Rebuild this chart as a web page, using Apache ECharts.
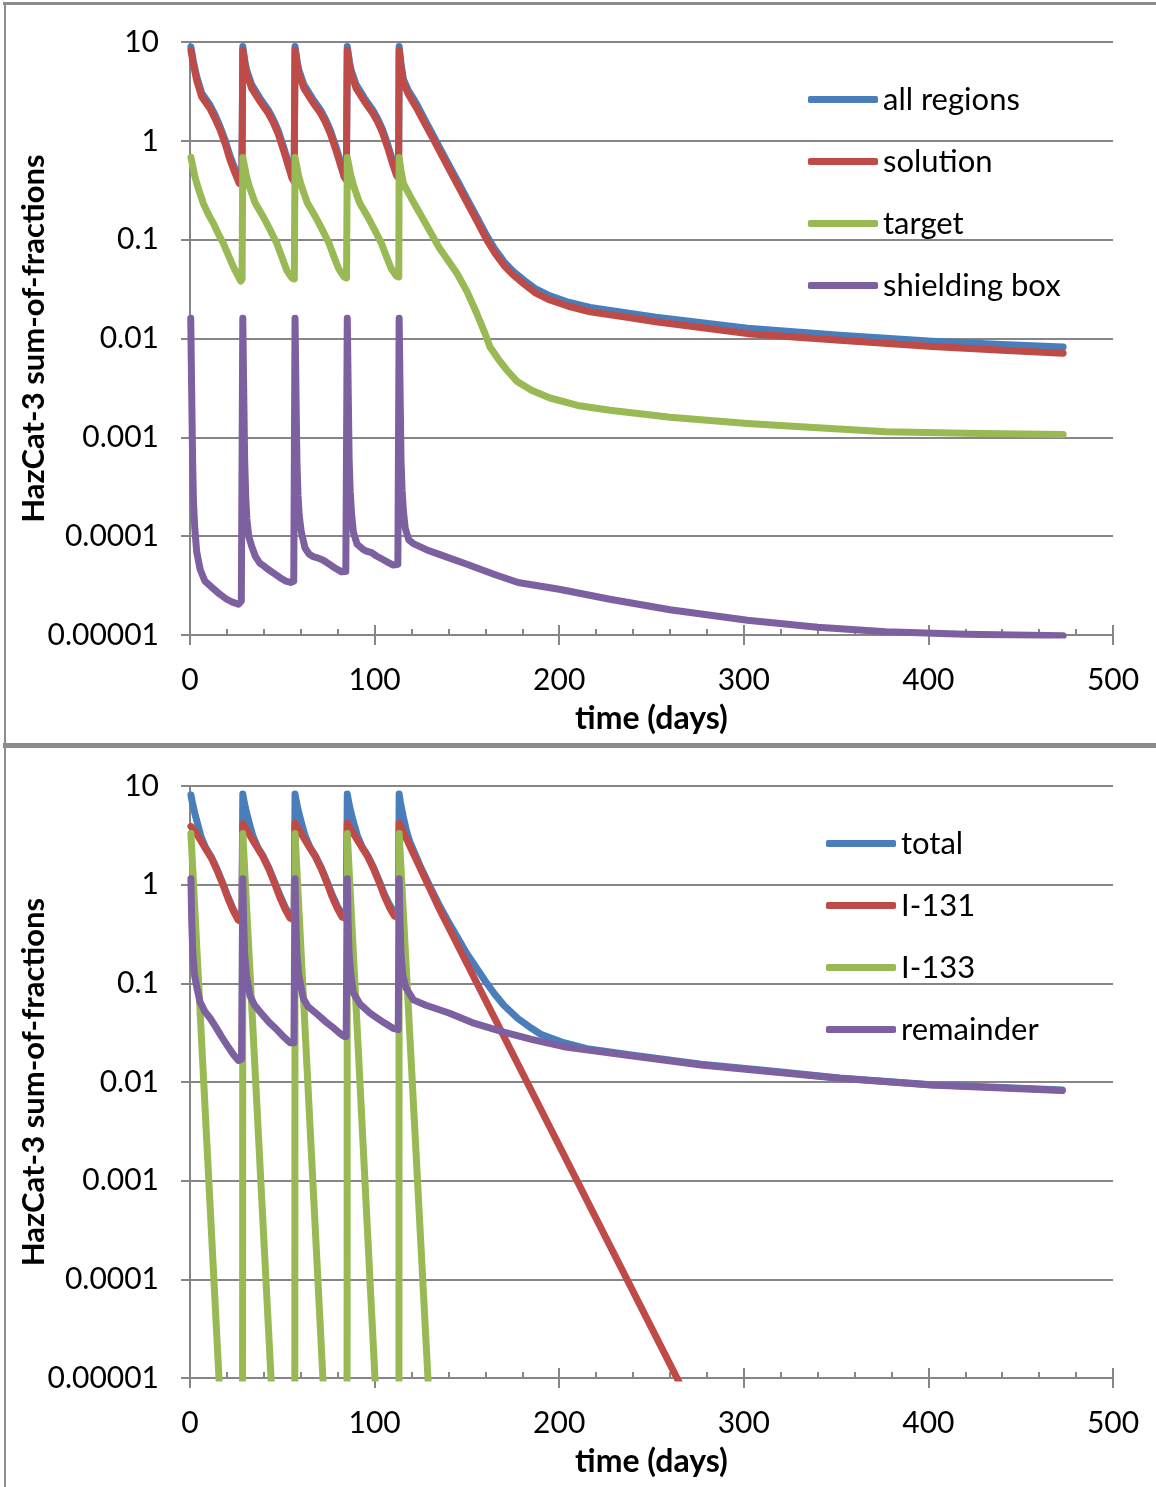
<!DOCTYPE html>
<html>
<head>
<meta charset="utf-8">
<title>HazCat-3 sum-of-fractions</title>
<script src="https://cdn.jsdelivr.net/npm/echarts/dist/echarts.min.js"></script>
<style>
html, body { margin: 0; padding: 0; background: #fff; }
#chart { width: 1156px; height: 1487px; }
</style>
</head>
<body>
<div id="chart"></div>
<script>
const chartDom = document.getElementById('chart');
const myChart = echarts.init(chartDom);

// axis tick labels
const yTickLabels = ['0.00001', '0.0001', '0.001', '0.01', '0.1', '1', '10'];
const topNames = ['all regions', 'solution', 'target', 'shielding box'];
const bottomNames = ['total', 'I-131', 'I-133', 'remainder'];

// top panel, [time (days), sum-of-fractions]
const allRegions = [
    [0.5, 8.9], [1.8, 6.4], [3.6, 4.5], [6.3, 3.05], [10.8, 2.3], [13.5, 1.84], [16.3, 1.39], [19, 1.02], [21.7, 0.7], [24.4, 0.52], [26.7, 0.41], [28.1, 0.4],
    [28.6, 9.0], [29.8, 6.3], [30.7, 5.2], [33.4, 3.7], [37.9, 2.7], [42.4, 2.05], [45, 1.67], [47.6, 1.3], [50.5, 0.89], [53.2, 0.61], [55.2, 0.46], [56.4, 0.425],
    [56.9, 9.0], [58.1, 6.3], [59, 5.2], [61.7, 3.7], [66.2, 2.7], [70.7, 2.05], [73.3, 1.67], [75.9, 1.3], [78.8, 0.9], [81.5, 0.62], [83.5, 0.47], [84.7, 0.44],
    [85.2, 9.0], [86.4, 6.3], [87.3, 5.2], [90, 3.7], [94.5, 2.7], [99, 2.05], [101.6, 1.68], [104.2, 1.32], [107.1, 0.92], [109.8, 0.63], [111.8, 0.49], [113, 0.46],
    [113.3, 9.0], [114.3, 6.1], [115.6, 4.2], [118.1, 3.28], [122.6, 2.4], [127, 1.66], [131.8, 1.13], [135, 0.87], [140, 0.58], [145, 0.39], [150, 0.26],
    [155, 0.175], [160.7, 0.11], [165, 0.081], [168, 0.068], [170, 0.06], [175, 0.048], [180.6, 0.0393], [187, 0.032], [195, 0.027], [205, 0.0233],
    [216.7, 0.0206], [235, 0.0183], [252.4, 0.0164], [302, 0.0127], [352, 0.0108], [402, 0.0094], [440, 0.0087], [473, 0.0082]
];
const solution = [
    [0.5, 8.2], [1.8, 6.0], [3.6, 4.1], [6.3, 2.8], [10.8, 2.13], [13.5, 1.69], [16.3, 1.29], [19, 0.94], [21.7, 0.64], [24.4, 0.47], [26.7, 0.37], [28.1, 0.36],
    [28.6, 8.3], [29.8, 5.9], [30.7, 4.8], [33.4, 3.4], [37.9, 2.5], [42.4, 1.9], [45, 1.55], [47.6, 1.2], [50.5, 0.82], [53.2, 0.56], [55.2, 0.42], [56.4, 0.385],
    [56.9, 8.3], [58.1, 5.9], [59, 4.8], [61.7, 3.4], [66.2, 2.5], [70.7, 1.9], [73.3, 1.55], [75.9, 1.2], [78.8, 0.83], [81.5, 0.57], [83.5, 0.43], [84.7, 0.4],
    [85.2, 8.3], [86.4, 5.9], [87.3, 4.8], [90, 3.4], [94.5, 2.5], [99, 1.9], [101.6, 1.56], [104.2, 1.22], [107.1, 0.85], [109.8, 0.58], [111.8, 0.45], [113, 0.42],
    [113.3, 8.3], [114.3, 5.6], [115.6, 3.85], [118.1, 3.0], [122.6, 2.17], [127, 1.52], [131.8, 1.04], [135, 0.8], [140, 0.534], [145, 0.357], [150, 0.239],
    [155, 0.16], [160.7, 0.1], [165, 0.074], [168, 0.062], [170, 0.055], [175, 0.044], [180.6, 0.036], [187, 0.029], [195, 0.0245], [205, 0.0212],
    [216.7, 0.0186], [235, 0.0166], [252.4, 0.0148], [302, 0.0112], [352, 0.0096], [402, 0.0083], [440, 0.0076], [473, 0.0071]
];
const target = [
    [0.5, 0.68], [2.7, 0.43], [4.5, 0.33], [7.2, 0.233], [10, 0.18], [12.6, 0.147], [15, 0.118], [18, 0.092], [21, 0.068], [23.5, 0.053], [26, 0.043], [27.5, 0.038], [28.2, 0.04],
    [28.6, 0.68], [30.7, 0.43], [32.5, 0.33], [35.3, 0.235], [39.7, 0.17], [43, 0.13], [47, 0.092], [50, 0.065], [52.4, 0.049], [55.1, 0.041], [56.5, 0.04],
    [56.9, 0.68], [59, 0.43], [60.8, 0.33], [63.6, 0.235], [68, 0.17], [71.3, 0.13], [75.3, 0.092], [78.3, 0.065], [80.7, 0.05], [83.4, 0.042], [84.8, 0.041],
    [85.2, 0.68], [87.3, 0.43], [89.1, 0.33], [91.9, 0.235], [96.3, 0.17], [99.6, 0.13], [103.6, 0.093], [106.6, 0.066], [109, 0.051], [111.7, 0.043], [113.1, 0.042],
    [113.3, 0.68], [114.3, 0.5], [115.6, 0.37], [120, 0.26], [126.4, 0.16], [135, 0.083], [144.5, 0.046], [150, 0.03], [155.3, 0.018], [160, 0.011],
    [162.5, 0.0082], [167, 0.0062], [171.6, 0.0048], [177, 0.0037], [185, 0.003], [195, 0.0025], [210, 0.0021], [227.5, 0.00188], [260, 0.0016],
    [302, 0.00138], [340, 0.00125], [377, 0.00114], [420, 0.0011], [473, 0.00107]
];
const shieldingBox = [
    [0.4, 0.016], [0.9, 0.003], [1.4, 6e-4], [1.9, 2.2e-4], [2.6, 1.2e-4], [3.6, 7e-5], [5.5, 4.6e-5], [8.1, 3.5e-5], [10.5, 3.2e-5], [12.6, 2.95e-5], [16, 2.6e-5], [19.9, 2.3e-5], [23, 2.15e-5], [26.2, 2.05e-5], [27.8, 2.2e-5],
    [28.6, 0.016], [29.1, 0.003], [29.6, 6e-4], [30.2, 2.5e-4], [30.8, 1.5e-4], [31.8, 1.0e-4], [33.4, 7.9e-5], [35.5, 6.2e-5], [37.9, 5.3e-5], [40, 5.0e-5], [42.4, 4.6e-5], [45.5, 4.2e-5], [48.8, 3.8e-5], [52, 3.5e-5], [54.5, 3.4e-5], [56.2, 3.5e-5],
    [56.9, 0.016], [57.4, 0.003], [57.9, 6e-4], [58.5, 2.6e-4], [59.2, 1.6e-4], [60.3, 1.1e-4], [62.3, 7.6e-5], [64.5, 6.6e-5], [66.8, 6.2e-5], [69.5, 6.0e-5], [72.2, 5.7e-5], [75.5, 5.2e-5], [79, 4.7e-5], [82.1, 4.35e-5], [84.4, 4.4e-5],
    [85.2, 0.016], [85.7, 0.003], [86.2, 6e-4], [86.8, 2.8e-4], [87.5, 1.7e-4], [88.5, 1.1e-4], [90.5, 8.3e-5], [93.9, 7.3e-5], [96, 7.0e-5], [98.4, 6.8e-5], [101, 6.3e-5], [104.5, 5.8e-5], [107.5, 5.4e-5], [110.1, 5.1e-5], [112.6, 5.2e-5],
    [113.3, 0.016], [113.8, 0.003], [114.3, 6e-4], [114.9, 2.9e-4], [115.6, 1.8e-4], [116.6, 1.2e-4], [118.5, 9.2e-5], [121, 8.4e-5], [128, 7.3e-5], [135.4, 6.5e-5],
    [150, 5.2e-5], [165, 4.1e-5], [177.7, 3.4e-5], [200, 2.9e-5], [227.5, 2.3e-5], [260, 1.8e-5], [302, 1.41e-5], [340, 1.2e-5], [377, 1.08e-5], [420, 1.02e-5], [473, 9.8e-6]
];

// bottom panel
const total = [
    [0.5, 8.1], [1.3, 6.8], [2.7, 5.2], [4.5, 3.9], [6, 3.05], [8.5, 2.37], [11.5, 1.92], [14.5, 1.46], [18, 1.01], [20.5, 0.76], [23.5, 0.56], [26, 0.46], [28.1, 0.44],
    [28.6, 8.3], [29.4, 6.8], [30.8, 5.2], [32.6, 3.9], [34.1, 3.1], [36.6, 2.41], [39.6, 1.95], [42.6, 1.5], [46.1, 1.04], [48.6, 0.79], [51.6, 0.59], [54.1, 0.49], [56.4, 0.47],
    [56.9, 8.3], [57.7, 6.8], [59.1, 5.2], [60.9, 3.9], [62.4, 3.12], [64.9, 2.42], [67.9, 1.97], [70.9, 1.52], [74.4, 1.06], [76.9, 0.8], [79.9, 0.6], [82.4, 0.5], [84.7, 0.48],
    [85.2, 8.3], [86, 6.8], [87.4, 5.2], [89.2, 3.9], [90.7, 3.13], [93.2, 2.43], [96.2, 1.98], [99.2, 1.53], [102.7, 1.07], [105.2, 0.81], [108.2, 0.62], [110.7, 0.52], [113, 0.5],
    [113.3, 8.3], [114.1, 6.6], [115.5, 4.9], [117.3, 3.5], [119, 2.75], [125, 1.5], [130, 0.96], [135.4, 0.6], [140, 0.42], [145, 0.29], [150, 0.2], [155, 0.145],
    [160, 0.105], [165, 0.078], [170, 0.06], [177.6, 0.044], [185, 0.035], [190, 0.0305], [202.5, 0.025], [215, 0.0218], [240, 0.0187], [277, 0.0151],
    [315, 0.0129], [351.8, 0.011], [401.6, 0.0094], [440, 0.0088], [472.5, 0.0083]
];
const i131 = [
    [0.5, 3.9], [3, 3.4], [5.5, 2.85], [8.5, 2.3], [11.5, 1.87], [14.5, 1.42], [18, 0.98], [20.5, 0.73], [23.5, 0.54], [26, 0.44], [28.1, 0.42],
    [28.6, 4.15], [31.1, 3.5], [33.6, 2.9], [36.6, 2.35], [39.6, 1.9], [42.6, 1.45], [46.1, 1.0], [48.6, 0.75], [51.6, 0.56], [54.1, 0.46], [56.4, 0.44],
    [56.9, 4.2], [59.4, 3.5], [61.9, 2.92], [64.9, 2.36], [67.9, 1.92], [70.9, 1.47], [74.4, 1.02], [76.9, 0.76], [79.9, 0.57], [82.4, 0.47], [84.7, 0.45],
    [85.2, 4.2], [87.7, 3.5], [90.2, 2.93], [93.2, 2.37], [96.2, 1.93], [99.2, 1.48], [102.7, 1.03], [105.2, 0.77], [108.2, 0.58], [110.7, 0.48], [113, 0.46],
    [113.3, 4.2], [135.4, 0.55], [270, 5.9e-6]
];
const i133 = [
    [0.5, 3.3], [15.7, 1e-5], [28.4, 1e-9],
    [28.6, 3.3], [43.9, 1e-5], [56.7, 1e-9],
    [56.9, 3.3], [72.0, 1e-5], [85.0, 1e-9],
    [85.2, 3.3], [100.2, 1e-5], [113.1, 1e-9],
    [113.3, 3.3], [128.9, 1e-5], [140, 1e-9]
];
const remainder = [
    [0.5, 1.15], [0.9, 0.45], [1.5, 0.2], [2.5, 0.12], [4, 0.085], [5.4, 0.065], [8, 0.052], [11, 0.044], [14, 0.036], [17, 0.029], [20.5, 0.023], [23.5, 0.019], [26.2, 0.0165], [27.9, 0.017],
    [28.6, 1.15], [29, 0.45], [29.6, 0.2], [30.6, 0.12], [32.5, 0.075], [35, 0.06], [39.7, 0.047], [43, 0.04], [47, 0.034], [50.5, 0.029], [54.2, 0.025], [56.3, 0.025],
    [56.9, 1.15], [57.3, 0.45], [57.9, 0.2], [58.9, 0.12], [61.4, 0.07], [64, 0.058], [70.4, 0.046], [74, 0.04], [78, 0.035], [81.3, 0.031], [83.5, 0.029], [84.6, 0.029],
    [85.2, 1.15], [85.6, 0.45], [86.2, 0.2], [87.2, 0.12], [88.5, 0.08], [92, 0.062], [97.5, 0.05], [101, 0.045], [105, 0.04], [110, 0.035], [112.8, 0.034],
    [113.3, 1.15], [113.7, 0.45], [114.3, 0.2], [115.3, 0.12], [117, 0.09], [121, 0.068], [127.8, 0.06], [140.3, 0.05], [152.8, 0.04], [170, 0.032], [185, 0.027],
    [202.5, 0.0228], [240, 0.0183], [277, 0.0149], [315, 0.0127], [351.8, 0.0109], [401.6, 0.0093], [440, 0.0087], [472.5, 0.0082]
];

const colors = ['#4a7ebb', '#be4b48', '#98b954', '#7d60a0'];
const gray = '#868686';
const font = 'Lato, "Open Sans", sans-serif';

function xMain(gi) {
    return {
        type: 'value', gridIndex: gi, min: 0, max: 500, interval: 100,
        name: 'time (days)', nameLocation: 'middle', nameGap: 68,
        nameTextStyle: { fontSize: 32, fontWeight: 'bold', color: '#000', fontFamily: font },
        axisLine: { show: true, onZero: false, lineStyle: { color: gray, width: 2 } },
        axisTick: { show: true, length: 10, lineStyle: { color: gray, width: 2 } },
        axisLabel: { margin: 30, fontSize: 30, color: '#000', fontFamily: font },
        splitLine: { show: false }
    };
}
// second x axis only for the inner major/minor ticks
function xTicks(gi) {
    return {
        type: 'value', gridIndex: gi, min: 0, max: 500, interval: 100, position: 'bottom',
        axisLine: { show: false, onZero: false },
        axisTick: { show: true, inside: true, length: 10, lineStyle: { color: gray, width: 2 } },
        minorTick: { show: true, splitNumber: 5, length: 6, lineStyle: { color: gray, width: 2 } },
        axisLabel: { show: false },
        splitLine: { show: false }
    };
}
function yLog(gi) {
    return {
        type: 'log', logBase: 10, gridIndex: gi, min: 0.00001, max: 10,
        name: 'HazCat-3 sum-of-fractions', nameLocation: 'middle', nameGap: 141, nameMoveOverlap: false,
        nameTextStyle: { fontSize: 31, fontWeight: 'bold', color: '#000', fontFamily: font },
        axisLine: { show: true, lineStyle: { color: gray, width: 2 } },
        axisTick: { show: true, length: 9, lineStyle: { color: gray, width: 2 } },
        axisLabel: {
            margin: 31, fontSize: 30, color: '#000', fontFamily: font,
            formatter: function (v) { return yTickLabels[Math.round(Math.log10(v)) + 5]; }
        },
        splitLine: { show: true, lineStyle: { color: gray, width: 2 } }
    };
}
function line(name, data, color, xi, yi) {
    return {
        name: name, type: 'line', xAxisIndex: xi, yAxisIndex: yi, data: data,
        symbol: 'none', showSymbol: false, clip: true, silent: true,
        lineStyle: { color: color, width: 7, cap: 'round', join: 'round' },
        itemStyle: { color: color }
    };
}
function legend(names, left, top) {
    return {
        data: names, orient: 'vertical', left: left, top: top, padding: 0,
        icon: 'roundRect', itemWidth: 70, itemHeight: 7, itemGap: 31,
        selectedMode: false,
        textStyle: { fontSize: 31, color: '#000', lineHeight: 31, fontFamily: font }
    };
}

const option = {
    animation: false,
    backgroundColor: '#fff',
    grid: [
        { left: 190, top: 42, width: 923, height: 593, outerBoundsMode: 'none', containLabel: false },
        { left: 190, top: 786, width: 923, height: 592, outerBoundsMode: 'none', containLabel: false }
    ],
    xAxis: [xMain(0), xTicks(0), xMain(1), xTicks(1)],
    yAxis: [yLog(0), yLog(1)],
    legend: [legend(topNames, 808, 84), legend(bottomNames, 826, 828)],
    series: [
        line(topNames[0], allRegions, colors[0], 0, 0),
        line(topNames[1], solution, colors[1], 0, 0),
        line(topNames[2], target, colors[2], 0, 0),
        line(topNames[3], shieldingBox, colors[3], 0, 0),
        line(bottomNames[0], total, colors[0], 2, 1),
        line(bottomNames[1], i131, colors[1], 2, 1),
        line(bottomNames[2], i133, colors[2], 2, 1),
        line(bottomNames[3], remainder, colors[3], 2, 1)
    ],
    // panel frame
    graphic: [
        { type: 'rect', shape: { x: 3, y: 2, width: 1153, height: 3 }, style: { fill: '#8c8c8c' }, silent: true },
        { type: 'rect', shape: { x: 4, y: 2, width: 2, height: 1485 }, style: { fill: '#8c8c8c' }, silent: true },
        { type: 'rect', shape: { x: 3, y: 743, width: 1153, height: 5 }, style: { fill: '#8c8c8c' }, silent: true }
    ]
};

myChart.setOption(option);
</script>
</body>
</html>
